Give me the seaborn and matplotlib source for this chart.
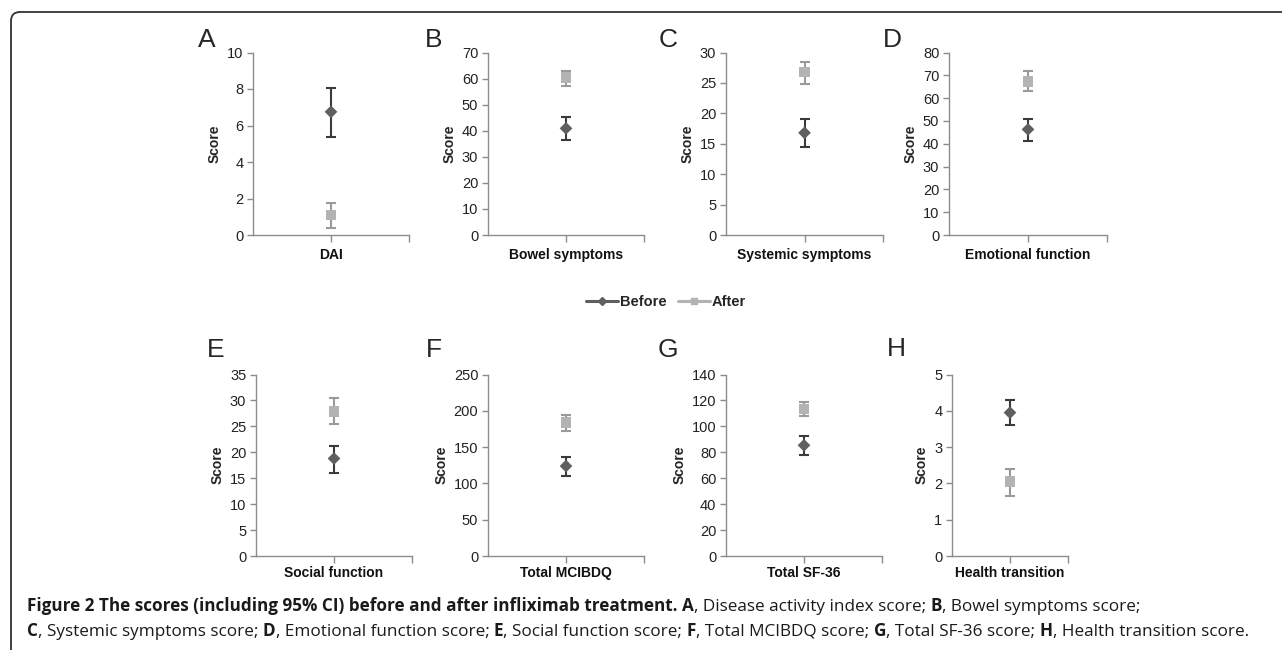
import matplotlib
matplotlib.use('Agg')
import matplotlib.pyplot as plt
import matplotlib.patches as mpatches
import matplotlib.transforms as mtransforms
from matplotlib.lines import Line2D
import numpy as np
import pandas as pd
import seaborn as sns

# Data (mean and 95% CI)
categories = ['DAI', 'Bowel symptoms', 'Systemic symptoms', 'Emotional function',
              'Social function', 'Total MCIBDQ', 'Total SF-36', 'Health transition']
panel_letters = ['A', 'B', 'C', 'D', 'E', 'F', 'G', 'H']
before_mean = [6.75, 40.9, 16.8, 46.3, 18.8, 123.9, 85.4, 3.95]
before_low = [5.38, 36.6, 14.5, 41.4, 16.1, 110.1, 77.9, 3.61]
before_high = [8.06, 45.3, 19.1, 50.9, 21.3, 136.8, 92.6, 4.29]
after_mean = [1.10, 60.4, 26.8, 67.4, 27.9, 183.7, 113.4, 2.05]
after_low = [0.37, 57.1, 24.9, 63.0, 25.5, 172.2, 108.2, 1.65]
after_high = [1.77, 62.9, 28.4, 71.7, 30.4, 194.3, 118.5, 2.41]
y_max = [10, 70, 30, 80, 35, 250, 140, 5]
y_step = [2, 10, 5, 10, 5, 50, 20, 1]

sns.set_style('white')
plt.rcParams['font.family'] = ['Liberation Sans', 'DejaVu Sans']

W, H = 1282, 650
fig = plt.figure(figsize=(W / 100, H / 100), dpi=100)

# axes boxes in pixels: (left, right, top, bottom)
boxes = [(253, 409, 52.5, 235), (488, 644, 52.5, 235), (726, 883, 52.5, 235), (949, 1107, 52.5, 235),
         (256, 412, 374.5, 556), (488, 644, 374.5, 556), (726, 882, 374.5, 556), (952, 1068, 374.5, 556)]
letter_pos = [(198, 47), (425, 47), (659, 47), (883, 47),
              (207, 357), (426, 357), (658, 357), (887, 356)]

c_before, c_after = '#5f5f5f', '#b3b3b3'
c_err_before, c_err_after = '#3a3a3a', '#9a9a9a'
axis_col = '#8c8c8c'

for i, cat in enumerate(categories):
    l, r, t, b = boxes[i]
    ax = fig.add_axes([l / W, 1 - b / H, (r - l) / W, (b - t) / H])
    df = pd.DataFrame({'measure': [cat, cat],
                       'score': [before_mean[i], after_mean[i]],
                       'time': ['Before', 'After']})
    ax.errorbar([0], [before_mean[i]],
                yerr=[[before_mean[i] - before_low[i]], [before_high[i] - before_mean[i]]],
                fmt='none', ecolor=c_err_before, elinewidth=1.5, capsize=3.5, capthick=1.5, zorder=2)
    ax.errorbar([0], [after_mean[i]],
                yerr=[[after_mean[i] - after_low[i]], [after_high[i] - after_mean[i]]],
                fmt='none', ecolor=c_err_after, elinewidth=1.5, capsize=3.5, capthick=1.5, zorder=2)
    sns.scatterplot(data=df, x='measure', y='score', hue='time', style='time',
                    palette={'Before': c_before, 'After': c_after},
                    markers={'Before': 'D', 'After': 's'}, size='time',
                    sizes={'Before': 42, 'After': 58}, linewidth=0,
                    legend=False, ax=ax, zorder=3)
    ax.set_xlim(-0.5, 0.5)
    ax.set_ylim(0, y_max[i])
    ax.set_yticks(np.arange(0, y_max[i] + y_step[i] / 2, y_step[i]))
    ax.set_xticks([0])
    ax.set_xticklabels([cat], fontweight='bold', fontsize=10)
    ax.set_xticks([0.5], minor=True)
    for s in ['top', 'right']:
        ax.spines[s].set_visible(False)
    for s in ['left', 'bottom']:
        ax.spines[s].set_color(axis_col)
        ax.spines[s].set_linewidth(1.0)
    ax.tick_params(axis='y', direction='out', length=4, width=1, color=axis_col,
                   labelsize=10.5, labelcolor='#222222', pad=3, left=True)
    ax.tick_params(axis='x', which='both', direction='out', length=5, width=1,
                   color=axis_col, pad=4 if i < 4 else 2, bottom=True, labelcolor='#111111')
    ax.set_xlabel('')
    ax.set_ylabel('Score', fontweight='bold', fontsize=10, labelpad=4)
    ax.grid(False)
    lx, ly = letter_pos[i]
    fig.text(lx / W, 1 - ly / H, panel_letters[i], fontsize=19, ha='left', va='baseline')

# legend between rows
handles = [Line2D([], [], color=c_before, lw=2.2, marker='D', markersize=4.5),
           Line2D([], [], color=c_after, lw=2.2, marker='s', markersize=4.5)]
fig.legend(handles, ['Before', 'After'], loc='center', bbox_to_anchor=(666 / W, 1 - 302 / H),
           ncol=2, frameon=False, handlelength=2.2, handletextpad=0.1, columnspacing=0.8,
           prop={'weight': 'bold', 'size': 10.5})

# caption with mixed bold / regular pieces
cap_lines = [
    [('Figure 2 The scores (including 95% CI) before and after infliximab treatment. ', True),
     ('A', True), (', Disease activity index score; ', False), ('B', True),
     (', Bowel symptoms score;', False)],
    [('C', True), (', Systemic symptoms score; ', False), ('D', True),
     (', Emotional function score; ', False), ('E', True), (', Social function score; ', False),
     ('F', True), (', Total MCIBDQ score; ', False), ('G', True), (', Total SF-36 score; ', False),
     ('H', True), (', Health transition score.', False)],
]
cap_y = [611, 636]
renderer = fig.canvas.get_renderer()
for line, yb in zip(cap_lines, cap_y):
    x = 27
    for txt, bold in line:
        tt = fig.text(x / W, 1 - yb / H, txt, fontsize=12.3, family=['Open Sans', 'DejaVu Sans'],
                      fontweight='bold' if bold else 'normal', color='#1a1a1a',
                      ha='left', va='baseline')
        x += tt.get_window_extent(renderer).width

# rounded frame around the figure
frame = mpatches.FancyBboxPatch((11, -40), 1400, 650 - 12 + 40,
                                boxstyle='round,pad=0,rounding_size=9',
                                transform=mtransforms.IdentityTransform(),
                                fill=False, edgecolor='#333333', linewidth=1.3)
fig.patches.append(frame)

fig.savefig('out.png', dpi=100)
